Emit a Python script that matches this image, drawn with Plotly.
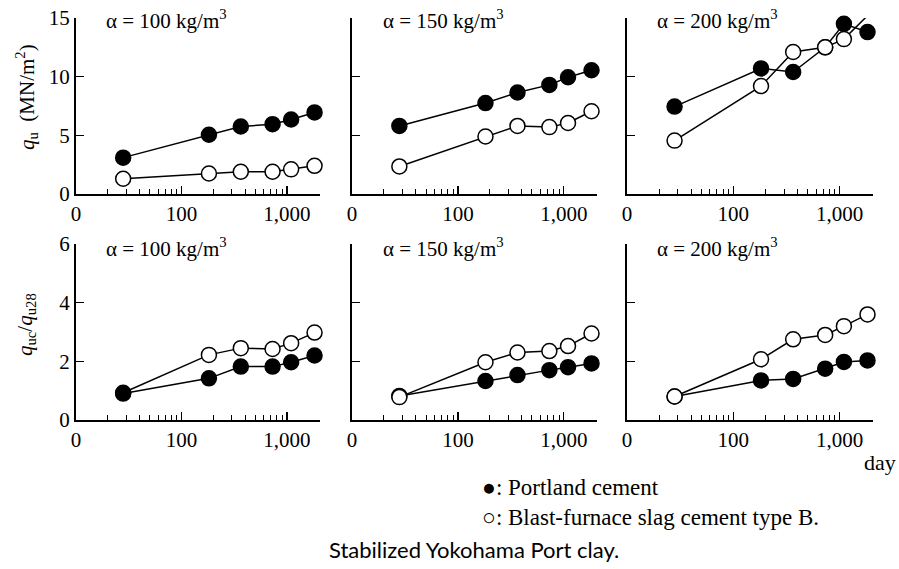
import plotly.graph_objects as go

W, H = 899, 569

days = [28, 182, 365, 730, 1095, 1825]

qu_portland_100 = [3.1, 5.05, 5.75, 5.95, 6.35, 6.95]
qu_slag_100 = [1.3, 1.75, 1.9, 1.9, 2.1, 2.4]
qu_portland_150 = [5.8, 7.75, 8.65, 9.3, 9.95, 10.55]
qu_slag_150 = [2.35, 4.9, 5.8, 5.7, 6.05, 7.05]
qu_portland_200 = [7.45, 10.7, 10.4, 12.5, 14.5, 13.8]
qu_slag_200 = [4.55, 9.2, 12.1, 12.5, 13.2, 15.2]

ratio_portland_100 = [0.9, 1.42, 1.82, 1.82, 1.97, 2.2]
ratio_slag_100 = [0.93, 2.22, 2.45, 2.42, 2.62, 2.98]
ratio_portland_150 = [0.82, 1.33, 1.53, 1.7, 1.8, 1.93]
ratio_slag_150 = [0.78, 1.97, 2.3, 2.35, 2.52, 2.95]
ratio_portland_200 = [0.8, 1.35, 1.4, 1.75, 1.98, 2.03]
ratio_slag_200 = [0.8, 2.07, 2.75, 2.9, 3.2, 3.6]

panel_titles = ["α = 100 kg/m<sup>3</sup>", "α = 150 kg/m<sup>3</sup>", "α = 200 kg/m<sup>3</sup>"]
x_tickvals = [10, 100, 1000, 2050]
x_ticktext = ["0", "100", "1,000", ""]
x_minor = [20, 30, 40, 50, 60, 70, 80, 90, 200, 300, 400, 500, 600, 700, 800, 900]

SERIF = "Liberation Serif"

def px_x(p):
    return p / W

def px_y(p):
    return 1 - p / H

x_domains = [(76, 320), (352, 597), (627, 873)]
y_domains = [(18, 194), (244, 420)]

fig = go.Figure()

panels = [
    # row, col, portland, slag, slag_on_top
    (0, 0, qu_portland_100, qu_slag_100, True),
    (0, 1, qu_portland_150, qu_slag_150, True),
    (0, 2, qu_portland_200, qu_slag_200, True),
    (1, 0, ratio_portland_100, ratio_slag_100, False),
    (1, 1, ratio_portland_150, ratio_slag_150, True),
    (1, 2, ratio_portland_200, ratio_slag_200, True),
]

for idx, (r, c, port, slag, slag_top) in enumerate(panels):
    n = idx + 1
    xa = "x" if n == 1 else f"x{n}"
    ya = "y" if n == 1 else f"y{n}"
    t_port = go.Scatter(x=days, y=port, xaxis=xa, yaxis=ya, mode="lines+markers",
                        line=dict(color="black", width=1.5),
                        marker=dict(symbol="circle", size=15, color="black",
                                    line=dict(color="black", width=1.5)),
                        cliponaxis=False, showlegend=False)
    t_slag = go.Scatter(x=days, y=slag, xaxis=xa, yaxis=ya, mode="lines+markers",
                        line=dict(color="black", width=1.5),
                        marker=dict(symbol="circle", size=15, color="white",
                                    line=dict(color="black", width=1.5)),
                        cliponaxis=False, showlegend=False)
    if slag_top:
        fig.add_trace(t_port)
        fig.add_trace(t_slag)
    else:
        fig.add_trace(t_slag)
        fig.add_trace(t_port)

    xd = x_domains[c]
    yd = y_domains[r]
    xkey = "xaxis" if n == 1 else f"xaxis{n}"
    ykey = "yaxis" if n == 1 else f"yaxis{n}"
    fig.update_layout(**{
        xkey: dict(
            type="log", domain=[px_x(xd[0]), px_x(xd[1])], anchor=ya,
            range=[1, 3.313], tickmode="array", tickvals=x_tickvals, ticktext=x_ticktext,
            ticks="inside", ticklen=8, tickwidth=1.3, tickcolor="black",
            minor=dict(tickmode="array", tickvals=x_minor, ticks="inside", ticklen=5,
                       tickwidth=1, tickcolor="black", showgrid=False),
            showline=True, linecolor="black", linewidth=2, showgrid=False, zeroline=False,
            tickfont=dict(family=SERIF, size=21, color="black"), fixedrange=True,
            automargin=False,
        ),
        ykey: dict(
            domain=[px_y(yd[1]), px_y(yd[0])], anchor=xa,
            range=[0, 15] if r == 0 else [0, 6],
            tickmode="array",
            tickvals=[0, 5, 10, 15] if r == 0 else [0, 2, 4, 6],
            showticklabels=(c == 0),
            ticks="inside", ticklen=8, tickwidth=1.3, tickcolor="black",
            showline=True, linecolor="black", linewidth=2, showgrid=False, zeroline=False,
            tickfont=dict(family=SERIF, size=21, color="black"), fixedrange=True,
            automargin=False,
        ),
    })

annotations = []
title_x = [104, 381, 655]
title_y = [20, 248]
for r in range(2):
    for c in range(3):
        annotations.append(dict(
            text=panel_titles[c], x=px_x(title_x[c]), y=px_y(title_y[r]),
            xref="paper", yref="paper", xanchor="left", yanchor="middle",
            showarrow=False, font=dict(family=SERIF, size=21, color="black")))

annotations.append(dict(
    text="<i>q</i><sub>u</sub>  (MN/m<sup>2</sup>)", x=px_x(26), y=px_y(97),
    xref="paper", yref="paper", xanchor="center", yanchor="middle", textangle=-90,
    showarrow=False, font=dict(family=SERIF, size=21, color="black")))
annotations.append(dict(
    text="<i>q</i><sub>uc</sub>/<i>q</i><sub>u28</sub>", x=px_x(26), y=px_y(325),
    xref="paper", yref="paper", xanchor="center", yanchor="middle", textangle=-90,
    showarrow=False, font=dict(family=SERIF, size=21, color="black")))
annotations.append(dict(
    text="day", x=px_x(880), y=px_y(462),
    xref="paper", yref="paper", xanchor="center", yanchor="middle",
    showarrow=False, font=dict(family=SERIF, size=22, color="black")))
annotations.append(dict(
    text="●: Portland cement", x=px_x(480), y=px_y(487),
    xref="paper", yref="paper", xanchor="left", yanchor="middle",
    showarrow=False, font=dict(family=SERIF, size=23, color="black")))
annotations.append(dict(
    text="○: Blast-furnace slag cement type B.", x=px_x(480), y=px_y(517),
    xref="paper", yref="paper", xanchor="left", yanchor="middle",
    showarrow=False, font=dict(family=SERIF, size=23, color="black")))
annotations.append(dict(
    text="Stabilized Yokohama Port clay.", x=px_x(474), y=px_y(549),
    xref="paper", yref="paper", xanchor="center", yanchor="middle",
    showarrow=False, font=dict(family="Lato", size=22, color="black")))

fig.update_layout(
    width=W, height=H, margin=dict(l=0, r=0, t=0, b=0),
    paper_bgcolor="white", plot_bgcolor="white",
    annotations=annotations, showlegend=False,
)

fig.write_html("out.html", config={"displayModeBar": False, "staticPlot": True},
               post_script="document.body.style.margin='0px';document.body.style.overflow='hidden';")
